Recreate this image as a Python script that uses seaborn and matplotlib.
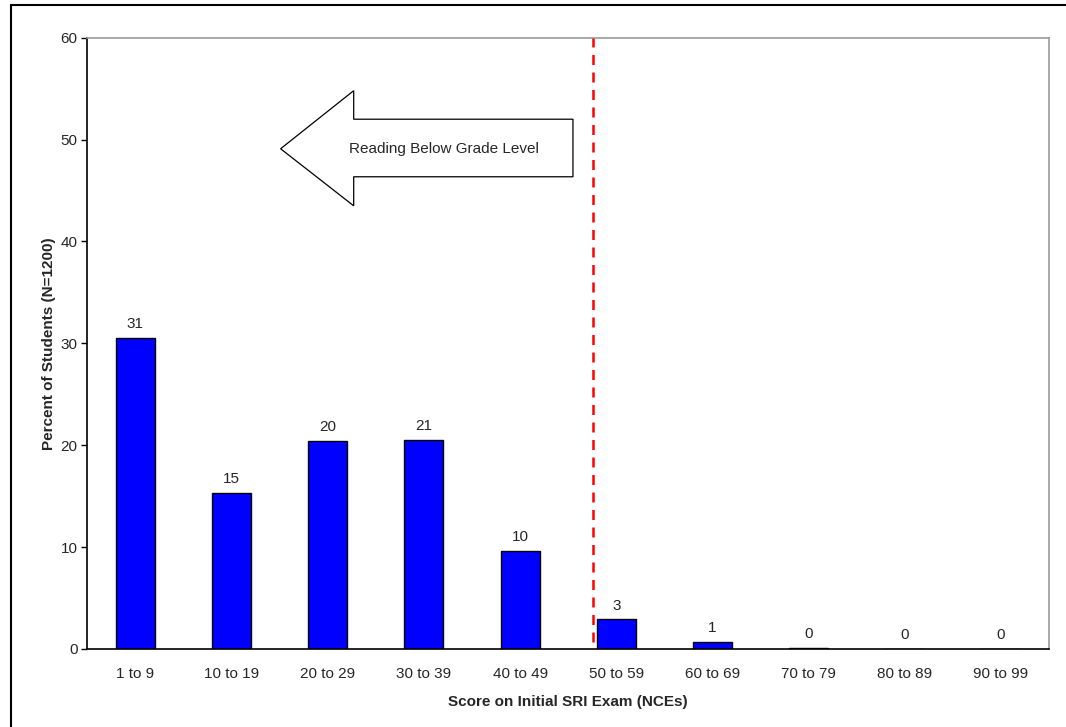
import matplotlib
matplotlib.use("Agg")
import matplotlib.pyplot as plt
from matplotlib.patches import Polygon, Rectangle
import seaborn as sns
import pandas as pd

# ---- data ----
categories = ["1 to 9", "10 to 19", "20 to 29", "30 to 39", "40 to 49",
              "50 to 59", "60 to 69", "70 to 79", "80 to 89", "90 to 99"]
percents = [30.5, 15.3, 20.4, 20.5, 9.6, 2.9, 0.7, 0.1, 0.0, 0.0]
bar_labels = ["31", "15", "20", "21", "10", "3", "1", "0", "0", "0"]
y_ticks = [0, 10, 20, 30, 40, 50, 60]
cutoff_x = 4.76
arrow_text = "Reading Below Grade Level"
x_title = "Score on Initial SRI Exam (NCEs)"
y_title = "Percent of Students (N=1200)"

sns.set_style("white")
plt.rcParams["font.family"] = ["Liberation Sans", "DejaVu Sans"]

FS = 11

df = pd.DataFrame({"cat": categories, "pct": percents})

fig = plt.figure(figsize=(10.66, 7.27), dpi=100)
ax = fig.add_axes([87.3 / 1066, 1 - 649 / 727, (1049 - 87.3) / 1066, (649 - 37.7) / 727])

sns.barplot(data=df, x="cat", y="pct", color="#0000FF", saturation=1,
            width=0.405, edgecolor="black", linewidth=1.0, ax=ax)

ax.set_xlim(-0.5, 9.5)
ax.set_ylim(0, 60)
ax.set_yticks(y_ticks)
ax.tick_params(axis="y", length=4, width=1, color="black", labelsize=FS, pad=3, left=True)
ax.tick_params(axis="x", length=0, labelsize=FS, pad=13)

for s in ["left", "bottom"]:
    ax.spines[s].set_color("black")
    ax.spines[s].set_linewidth(1.2)
for s in ["top", "right"]:
    ax.spines[s].set_color("#999999")
    ax.spines[s].set_linewidth(1.2)

ax.set_xlabel(x_title, fontsize=FS, fontweight="bold", labelpad=10)
ax.set_ylabel(y_title, fontsize=FS, fontweight="bold", labelpad=3)

for i, (v, lab) in enumerate(zip(percents, bar_labels)):
    ax.annotate(lab, (i, v), xytext=(0, 5), textcoords="offset points",
                ha="center", va="bottom", fontsize=FS)

# cutoff line
ax.plot([cutoff_x, cutoff_x], [0.7, 60], color="#FF0000", linestyle=(0, (4, 3)),
        linewidth=1.8, clip_on=False, zorder=5)

# block arrow
arrow_pts = [(1.51, 49.1), (2.27, 54.8), (2.27, 52.0), (4.55, 52.0),
             (4.55, 46.35), (2.27, 46.35), (2.27, 43.5)]
ax.add_patch(Polygon(arrow_pts, closed=True, facecolor="white",
                     edgecolor="black", linewidth=0.9, zorder=4))
ax.text(3.21, 49.1, arrow_text, ha="center", va="center", fontsize=FS, zorder=6)

# outer frame (top and left visible)
fig.patches.append(Rectangle((11 / 1066, -0.1), 1.2, 1.1 - 5 / 727,
                             transform=fig.transFigure, fill=False,
                             edgecolor="black", linewidth=1.5))

fig.savefig("out.png", dpi=100)
